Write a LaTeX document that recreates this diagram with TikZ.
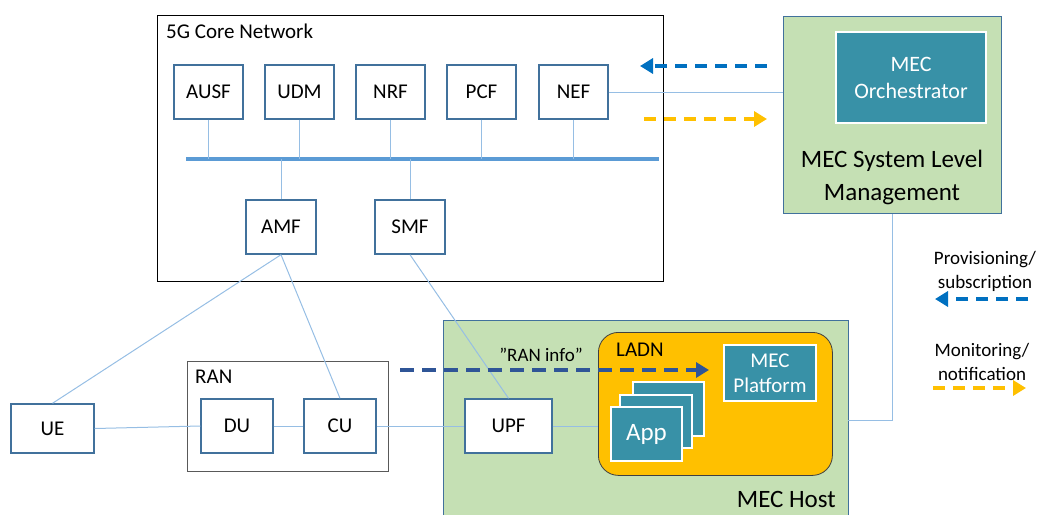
\documentclass[tikz,border=0pt]{standalone}
\usepackage{fontspec}
\setmainfont{Carlito}
\usetikzlibrary{arrows.meta,calc}
\definecolor{nodeblue}{RGB}{65,113,156}
\definecolor{linkblue}{RGB}{150,190,228}
\definecolor{busblue}{RGB}{91,155,213}
\definecolor{mecgreen}{RGB}{197,224,180}
\definecolor{mecteal}{RGB}{56,145,167}
\definecolor{ladnorange}{RGB}{255,192,0}
\definecolor{provblue}{RGB}{0,112,192}
\definecolor{monorange}{RGB}{255,192,0}
\definecolor{ranblue}{RGB}{47,85,151}
\tikzset{
  nf/.style={draw=nodeblue, line width=1.4pt, fill=white, minimum width=69pt, minimum height=54pt, inner sep=0pt, font=\fontsize{21}{25}\selectfont},
  link/.style={draw=linkblue, line width=1pt},
  tealbox/.style={draw=white, line width=1.5pt, fill=mecteal, text=white, inner sep=0pt, align=center},
  dasharrow/.style={line width=4pt, dash pattern=on 12pt off 8pt, -{Triangle[length=13pt,width=15pt]}},
  group/.style={anchor=north west, inner sep=0pt},
  lbl/.style={inner sep=0pt, font=\fontsize{21}{25}\selectfont},
}
\begin{document}
\begin{tikzpicture}[x=1pt,y=-1pt]
\useasboundingbox (0,0) rectangle (1040,514);
% containers
\node[group, draw=black, line width=0.8pt, minimum width=506pt, minimum height=266pt] (core) at (157,15) {};
\node[lbl, anchor=west] (coretitle) at (166,31) {5G Core Network};
\node[group, draw=black!65, line width=1pt, minimum width=201pt, minimum height=110pt] (ran) at (187,361) {};
\node[lbl, anchor=west] (rantitle) at (195,377) {RAN};
\node[group, draw=nodeblue, line width=1.4pt, fill=mecgreen, minimum width=405pt, minimum height=200pt] (mechost) at (443,320) {};
\node[lbl, anchor=east, font=\fontsize{25}{29}\selectfont] (hosttitle) at (836,499) {MEC Host};
\node[group, draw=black!75, line width=0.8pt, fill=ladnorange, rounded corners=20pt, minimum width=234pt, minimum height=143pt] (ladn) at (598,332) {};
\node[lbl, anchor=west] (ladntitle) at (616,350) {LADN};
\node[group, draw=nodeblue, line width=1.4pt, fill=mecgreen, minimum width=218pt, minimum height=197pt] (mecslm) at (783,16) {};
\node[lbl, align=center, font=\fontsize{25}{33}\selectfont] (slmtitle) at (892,177) {MEC System Level\\Management};
\node[tealbox, minimum width=150pt, minimum height=91pt, font=\fontsize{22}{27}\selectfont] (orch) at (911,77.5) {MEC\\Orchestrator};
\node[tealbox, minimum width=92pt, minimum height=56pt, font=\fontsize{21}{25}\selectfont] (mecp) at (770,373) {MEC\\Platform};
\node[tealbox, minimum width=71pt, minimum height=54pt] (app3) at (668.5,409) {};
\node[tealbox, minimum width=72pt, minimum height=53pt] (app2) at (656,421.5) {};
\node[tealbox, minimum width=71pt, minimum height=54pt, font=\fontsize{25}{29}\selectfont] (app1) at (646.5,434) {App};
% bus
\coordinate (busL) at (186,159);
\coordinate (busR) at (659,159);
\draw[busblue, line width=4pt] (busL) -- (busR);
% core NFs
\node[nf] (AUSF) at (208.5,92) {AUSF};
\node[nf] (UDM) at (299.5,92) {UDM};
\node[nf] (NRF) at (390.5,92) {NRF};
\node[nf] (PCF) at (481.5,92) {PCF};
\node[nf] (NEF) at (573.5,92) {NEF};
\node[nf, minimum width=70pt] (AMF) at (281,227) {AMF};
\node[nf, minimum width=70pt] (SMF) at (410,227) {SMF};
\foreach \n in {AUSF,UDM,NRF,PCF,NEF} \draw[link] (\n.south) -- (\n.south |- busL);
\foreach \n in {AMF,SMF} \draw[link] (\n.north) -- (\n.north |- busL);
% access nodes
\node[nf, minimum width=83pt, minimum height=49pt] (UE) at (52.5,428.5) {UE};
\node[nf, minimum width=72pt] (DU) at (237,426) {DU};
\node[nf, minimum width=72pt] (CU) at (340,426) {CU};
\node[nf, minimum width=87pt] (UPF) at (508.5,426) {UPF};
% links
\draw[link] (AMF.south) -- (UE.north);
\draw[link] (AMF.south) -- (CU.north);
\draw[link] (SMF.south) -- (UPF.north);
\draw[link] (UE.east) -- (DU.west);
\draw[link] (DU.east) -- (CU.west);
\draw[link] (CU.east) -- (UPF.west);
\draw[link] (UPF.east) -- (UPF.east -| ladn.west);
\draw[link] (NEF.east) -- (NEF.east -| mecslm.west);
\coordinate (hostR) at (848,420);
\draw[link] (hostR) -| (mecslm.south);
% dashed arrows
\coordinate (provS) at (767,66); \coordinate (provE) at (640,66);
\coordinate (monS) at (644,119); \coordinate (monE) at (767,119);
\draw[dasharrow, provblue] (provS) -- (provE);
\draw[dasharrow, monorange] (monS) -- (monE);
\coordinate (ranS) at (400,370); \coordinate (ranE) at (709,370);
\draw[dasharrow, ranblue, line width=4.5pt, dash pattern=on 14pt off 8pt] (ranS) -- (ranE);
\node[lbl, font=\fontsize{19}{23}\selectfont] (raninfo) at (541,355) {”RAN info”};
% legend
\node[lbl, align=center, font=\fontsize{19}{24}\selectfont] (provtxt) at (985,271) {Provisioning/\\subscription};
\coordinate (lpS) at (1028,299); \coordinate (lpE) at (935,299);
\draw[dasharrow, provblue] (lpS) -- (lpE);
\node[lbl, align=center, font=\fontsize{19}{24}\selectfont] (montxt) at (982,362) {Monitoring/\\notification};
\coordinate (lmS) at (933,388); \coordinate (lmE) at (1026,388);
\draw[dasharrow, monorange] (lmS) -- (lmE);
\end{tikzpicture}
\end{document}
